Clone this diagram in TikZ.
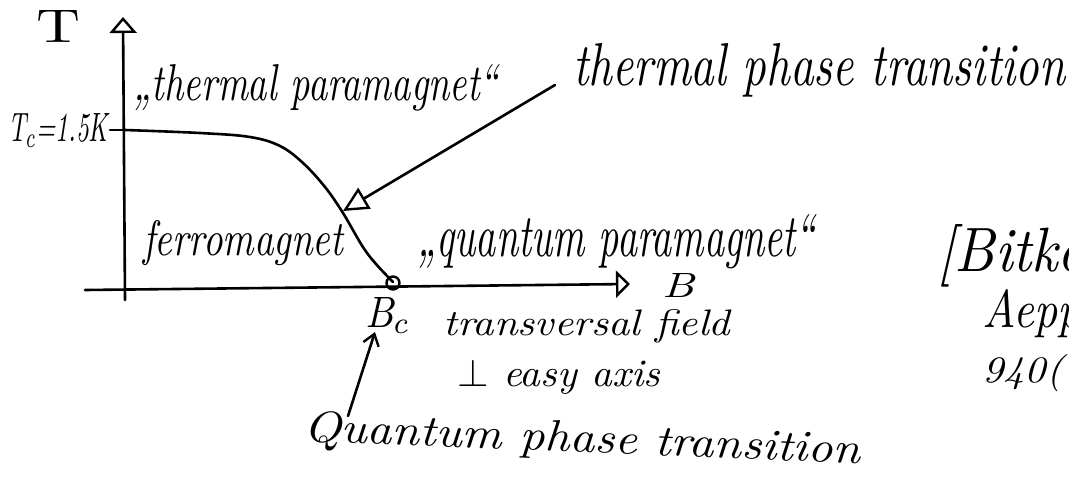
\documentclass[tikz,border=0pt]{standalone}
\usepackage{fontspec}
\usepackage{graphicx}
\usetikzlibrary{arrows.meta}
\newcommand{\hw}[3]{\resizebox{#1}{#2}{\itshape #3}}
\tikzset{
  hand/.style={line width=2.6pt, line cap=round, line join=round},
  lbl/.style={inner sep=0pt, anchor=base west},
}
\begin{document}
\begin{tikzpicture}[x=1pt,y=-1pt]
\useasboundingbox (0,0) rectangle (1069,482);
\fill[white] (0,0) rectangle (1069,482);
% axes
\coordinate (yo) at (125,300);
\coordinate (ytop) at (123,17);
\coordinate (xo) at (85,290);
\coordinate (xend) at (630,284);
\draw[hand, -{Triangle[open, length=16pt, width=27pt, line width=2.4pt]}] (yo) -- (ytop);
\draw[hand, -{Triangle[open, length=14pt, width=27pt, line width=2.4pt]}] (xo) -- (xend);
% axis labels
\node[lbl] (T) at (36,42) {\hw{44pt}{32pt}{\upshape T}};
\node[lbl] (Tc) at (8,141) {\hw{100pt}{28pt}{T$_c$=1.5K}};
\coordinate (tick) at (110,130);
\coordinate (tcpt) at (125,130);
\draw[hand] (tick) -- (tcpt);
\node[lbl] (B) at (662,297) {\hw{32pt}{24pt}{B}};
% phase boundary
\coordinate (qcp) at (393,283);
\coordinate (tpoint) at (343,211);
\draw[hand] plot[smooth, tension=0.6] coordinates {(125,130) (200,133) (250,137) (280,146) (303,163) (325,187) (343,213) (367,253) (393,282)};
\node[draw, circle, line width=2.4pt, minimum size=13pt, inner sep=0pt] (qc) at (qcp) {};
% region labels
\node[lbl] (tpara) at (133,100) {\hw{365pt}{36pt}{„thermal paramagnet“}};
\node[lbl] (ferro) at (143,255) {\hw{200pt}{35pt}{ferromagnet}};
\node[lbl] (qpara) at (417,256) {\hw{398pt}{42pt}{„quantum paramagnet“}};
% thermal phase transition
\node[lbl] (tpt) at (573,85) {\hw{492pt}{42pt}{thermal phase transition}};
\coordinate (tstart) at (555,85);
\draw[hand, -{Triangle[open, length=25pt, width=24pt, line width=2.4pt]}] (tstart) -- (tpoint);
% B_c and field
\node[lbl] (Bc) at (365,327) {\hw{45pt}{30pt}{B$_c$}};
\node[lbl] (tf) at (443,335) {\hw{287pt}{26pt}{transversal field}};
\node[lbl] (ea) at (457,386) {\hw{203pt}{27pt}{$\perp$ easy axis}};
% quantum phase transition
\node[lbl, rotate=-2.3] (qpt) at (303,441) {\hw{557pt}{31pt}{Quantum phase transition}};
\coordinate (qstart) at (348,416);
\coordinate (qend) at (375,332);
\draw[hand, -{Straight Barb[length=11pt, width=16pt, line width=2.4pt]}] (qstart) -- (qend);
% reference (cut off at the right edge)
\begin{scope}
\clip (900,200) rectangle (1069,400);
\node[lbl] (ref1) at (937,271) {\hw{150pt}{47pt}{[Bitko}};
\node[lbl] (ref2) at (982,327) {\hw{110pt}{38pt}{Aeppl}};
\node[lbl] (ref3) at (982,382) {\hw{81pt}{28pt}{940(}};
\end{scope}
\end{tikzpicture}
\end{document}
